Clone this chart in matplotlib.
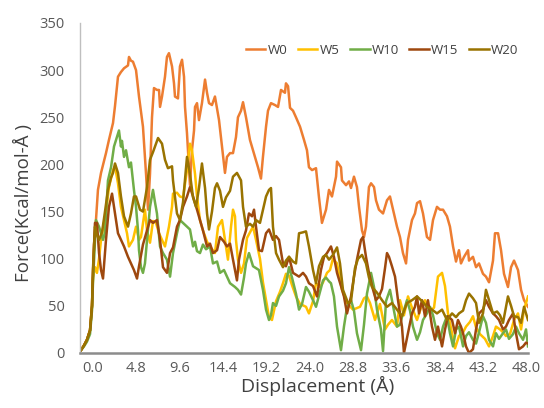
# -*- coding: utf-8 -*-
# Force vs displacement for the W0..W20 pulling runs

# ---------------------------------- imports ----------------------------------
import matplotlib
matplotlib.use('Agg')
import matplotlib.pyplot as plt

plt.rcParams['font.family'] = ['Open Sans', 'DejaVu Sans']

# -----------------------------------------------------------------------------
#                       data
# -----------------------------------------------------------------------------
w0_x = [-1.33, -1.00, -0.67, -0.33, -0.11, 0.11, 0.33, 0.55, 0.89, 1.44, 1.77, 2.22, 2.44, 2.77, 3.10,
        3.44, 3.88, 3.99, 4.21, 4.43, 4.77, 5.10, 5.54, 5.88, 6.10, 6.32, 6.54, 6.76, 7.09, 7.32,
        7.43, 7.65, 7.98, 8.20, 8.42, 8.76, 8.98, 9.09, 9.42, 9.64, 9.87, 10.09, 10.20, 10.42, 10.64,
        10.75, 10.97, 11.20, 11.31, 11.53, 11.75, 12.08, 12.42, 12.64, 12.86, 13.19, 13.52, 13.97, 14.30,
        14.63, 14.85, 15.19, 15.52, 15.85, 16.07, 16.41, 16.63, 16.96, 17.40, 17.74, 18.29, 18.62, 18.84,
        19.18, 19.40, 19.73, 20.17, 20.51, 20.84, 21.28, 21.39, 21.62, 21.84, 22.17, 22.50, 22.95, 23.39,
        23.72, 23.94, 24.28, 24.72, 25.05, 25.38, 25.83, 26.16, 26.49, 26.94, 27.05, 27.49, 27.60, 28.05,
        28.38, 28.60, 28.93, 29.26, 29.49, 29.82, 30.04, 30.26, 30.59, 30.82, 31.15, 31.37, 31.70, 32.15,
        32.59, 32.92, 33.26, 33.70, 34.03, 34.36, 34.70, 34.92, 35.36, 35.69, 35.92, 36.25, 36.58, 37.02,
        37.36, 37.69, 38.13, 38.47, 38.80, 39.24, 39.57, 39.91, 40.24, 40.57, 40.79, 41.13, 41.57, 41.68,
        42.12, 42.46, 42.79, 43.23, 43.56, 43.90, 44.34, 44.56, 44.90, 45.23, 45.56, 46.00, 46.34, 46.67,
        47.11, 47.45, 47.78, 48.22]
w0_y = [3, 8, 14, 24, 50, 115, 141, 173, 191, 212, 226, 244, 262, 293, 298,
        302, 305, 314, 310, 309, 300, 272, 240, 190, 152, 190, 250, 281, 279, 279,
        261, 272, 293, 314, 318, 304, 286, 272, 270, 304, 311, 293, 261, 233, 197,
        178, 215, 236, 261, 265, 247, 265, 290, 276, 265, 263, 272, 247, 219,
        191, 208, 212, 212, 229, 250, 257, 266, 250, 226, 215, 197, 185, 208,
        240, 257, 265, 263, 261, 279, 276, 286, 283, 260, 257, 250, 240, 226,
        215, 197, 194, 196, 165, 138, 152, 173, 166, 187, 203, 197, 183, 178,
        182, 175, 187, 176, 155, 130, 123, 134, 176, 180, 176, 162, 152, 148,
        162, 166, 152, 134, 123, 106, 95, 120, 141, 148, 159, 161, 148, 123,
        120, 141, 155, 152, 152, 145, 134, 113, 97, 109, 95, 102, 109, 98,
        102, 91, 95, 84, 81, 75, 98, 127, 127, 109, 84, 70, 91, 98,
        88, 67, 56, 49]

w5_x = [-1.33, -1.00, -0.67, -0.33, -0.11, 0.00, 0.22, 0.44, 0.67, 0.89, 1.22, 1.44, 1.77, 2.22, 2.44,
        2.77, 3.10, 3.44, 3.77, 3.99, 4.43, 4.77, 5.10, 5.32, 5.76, 5.99, 6.32, 6.65, 6.98, 7.32,
        7.65, 7.98, 8.42, 8.76, 8.87, 9.31, 9.64, 9.98, 10.42, 10.75, 10.97, 11.31, 11.53, 11.86, 12.19,
        12.64, 12.97, 13.52, 13.86, 14.30, 14.63, 14.96, 15.30, 15.52, 15.74, 15.85, 16.07, 16.41, 16.74,
        17.07, 17.40, 17.74, 18.07, 18.51, 18.84, 19.18, 19.51, 19.84, 20.29, 20.73, 21.06, 21.39, 21.73,
        22.06, 22.50, 22.95, 23.61, 23.94, 24.39, 24.72, 25.16, 25.50, 25.94, 26.27, 26.60, 27.05, 27.60,
        28.16, 28.82, 29.60, 30.04, 30.37, 30.71, 31.26, 31.81, 32.37, 32.70, 33.14, 33.70, 34.03, 34.47,
        34.92, 35.36, 35.92, 36.36, 36.80, 37.36, 37.80, 38.24, 38.69, 39.02, 39.35, 39.80, 40.13, 40.57,
        41.02, 41.35, 41.79, 42.12, 42.46, 42.90, 43.45, 43.90, 44.34, 44.67, 45.12, 45.45, 45.78, 46.22,
        46.67, 47.11, 47.45, 47.78, 48.22]
w5_y = [3, 8, 14, 24, 50, 80, 91, 85, 100, 120, 138, 148, 176, 194, 198,
        180, 155, 141, 127, 113, 120, 134, 120, 123, 152, 130, 117, 140, 138, 127,
        120, 113, 134, 155, 169, 170, 166, 165, 194, 222, 215, 190, 166, 141, 130,
        118, 113, 106, 134, 141, 120, 99, 134, 152, 145, 120, 99, 85, 95,
        122, 128, 134, 120, 100, 75, 56, 38, 35, 55, 65, 74, 84, 82,
        72, 60, 52, 49, 42, 55, 74, 70, 75, 85, 88, 100, 95, 67,
        53, 46, 49, 58, 60, 53, 35, 52, 25, 30, 35, 28, 56, 40,
        60, 48, 35, 48, 56, 45, 48, 81, 85, 71, 42, 21, 5, 18,
        22, 28, 33, 39, 27, 20, 15, 7, 18, 28, 25, 22, 18, 20,
        35, 42, 25, 46, 60]

w10_x = [-1.33, -1.00, -0.67, -0.33, -0.11, 0.00, 0.33, 0.67, 1.11, 1.33, 1.66, 2.00, 2.33, 2.66, 2.88,
         3.10, 3.21, 3.44, 3.66, 3.99, 4.21, 4.54, 4.77, 4.99, 5.10, 5.32, 5.54, 5.76, 5.99, 6.32,
         6.65, 6.87, 7.09, 7.43, 7.76, 8.20, 8.54, 8.87, 9.31, 9.64, 9.98, 10.42, 10.75, 11.09, 11.31,
         11.53, 11.86, 12.19, 12.53, 12.97, 13.30, 13.75, 14.08, 14.52, 14.85, 15.19, 15.74, 16.07, 16.41,
         16.74, 16.96, 17.29, 17.74, 18.07, 18.40, 18.84, 19.18, 19.51, 19.73, 19.95, 20.29, 20.62, 21.06,
         21.39, 21.73, 22.06, 22.50, 22.84, 23.17, 23.61, 23.94, 24.39, 24.72, 25.16, 25.50, 25.83, 26.16,
         26.38, 26.71, 27.05, 27.49, 27.82, 28.16, 28.60, 28.93, 29.26, 29.71, 30.04, 30.37, 30.82, 31.15,
         31.48, 31.92, 32.15, 32.48, 32.92, 33.26, 33.70, 34.03, 34.36, 34.81, 35.14, 35.47, 35.92, 36.25,
         36.58, 37.02, 37.36, 37.69, 38.13, 38.47, 38.80, 39.24, 39.57, 39.91, 40.24, 40.57, 41.02, 41.35,
         41.68, 42.12, 42.46, 42.79, 43.23, 43.56, 43.90, 44.34, 44.67, 45.01, 45.45, 45.78, 46.11, 46.56,
         46.89, 47.22, 47.67, 48.00, 48.22]
w10_y = [3, 7, 12, 20, 45, 75, 141, 134, 120, 128, 183, 197, 219, 229, 236,
         219, 225, 208, 215, 197, 202, 173, 155, 130, 109, 91, 85, 95, 120, 155,
         173, 160, 148, 113, 106, 99, 81, 106, 127, 141, 138, 134, 131, 113, 118,
         108, 106, 115, 110, 113, 95, 97, 85, 88, 81, 74, 70, 67, 62,
         80, 95, 106, 92, 90, 88, 67, 46, 35, 40, 53, 50, 60, 66,
         74, 91, 80, 63, 46, 52, 70, 65, 56, 49, 65, 77, 80, 76,
         74, 60, 28, 3, 28, 49, 56, 45, 21, 3, 30, 63, 85, 70,
         46, 25, 2, 55, 67, 50, 28, 30, 42, 56, 45, 28, 14, 22,
         35, 42, 49, 40, 21, 14, 28, 39, 21, 7, 25, 28, 7, 18,
         22, 14, 10, 22, 39, 32, 14, 7, 21, 15, 21, 25, 15, 20,
         28, 21, 14, 25, 7]

w15_x = [-1.33, -1.00, -0.67, -0.33, -0.11, 0.00, 0.22, 0.44, 0.67, 0.89, 1.11, 1.44, 1.77, 2.11, 2.33,
         2.77, 3.10, 3.44, 3.88, 4.21, 4.54, 4.88, 5.10, 5.54, 5.99, 6.32, 6.65, 7.09, 7.43, 7.76,
         8.20, 8.54, 8.87, 9.31, 9.64, 9.98, 10.42, 10.75, 11.09, 11.53, 11.86, 12.19, 12.64, 12.97, 13.30,
         13.75, 14.08, 14.52, 14.85, 15.19, 15.52, 15.96, 16.18, 16.63, 16.96, 17.29, 17.63, 17.85, 18.07,
         18.40, 18.73, 19.18, 19.51, 19.95, 20.29, 20.62, 21.06, 21.39, 21.73, 22.17, 22.50, 22.84, 23.28,
         23.61, 23.94, 24.39, 24.83, 25.27, 25.61, 25.94, 26.38, 26.71, 27.05, 27.49, 27.82, 28.16, 28.60,
         28.93, 29.26, 29.71, 29.93, 30.26, 30.59, 30.93, 31.37, 31.70, 32.04, 32.37, 32.59, 32.81, 33.14,
         33.48, 33.81, 34.25, 34.47, 34.92, 35.36, 35.69, 35.92, 36.14, 36.47, 36.80, 37.13, 37.58, 37.91,
         38.24, 38.69, 39.02, 39.35, 39.80, 40.13, 40.46, 40.79, 41.02, 41.35, 41.68, 42.12, 42.46, 42.79,
         43.23, 43.56, 43.90, 44.34, 44.67, 45.01, 45.45, 45.78, 46.11, 46.56, 46.89, 47.22, 47.67, 48.00,
         48.22]
w15_y = [3, 8, 14, 24, 50, 85, 138, 138, 106, 88, 79, 120, 155, 169, 155,
         127, 120, 113, 102, 95, 88, 79, 92, 115, 130, 141, 138, 141, 120, 91,
         85, 106, 112, 134, 141, 155, 166, 176, 166, 152, 141, 130, 113, 116, 106,
         109, 123, 118, 113, 116, 99, 77, 99, 120, 130, 148, 145, 152, 134,
         109, 108, 127, 131, 120, 124, 120, 95, 92, 102, 85, 83, 81, 85,
         81, 74, 71, 60, 88, 102, 106, 113, 102, 85, 71, 60, 42, 60,
         81, 99, 120, 123, 102, 85, 71, 56, 60, 68, 90, 106, 102, 92,
         81, 56, 28, 0, 21, 42, 49, 60, 42, 56, 39, 56, 28, 14,
         28, 7, 25, 39, 35, 21, 35, 28, 21, 7, 0, 4, 25, 42,
         46, 56, 49, 42, 39, 35, 25, 28, 35, 42, 21, 4, 7, 11,
         10]

w20_x = [-1.33, -1.00, -0.67, -0.33, -0.11, 0.00, 0.22, 0.44, 0.67, 1.00, 1.33, 1.66, 2.00, 2.22, 2.44,
         2.77, 3.10, 3.44, 3.88, 4.21, 4.54, 4.77, 5.21, 5.54, 5.99, 6.32, 6.65, 7.21, 7.65, 7.98,
         8.31, 8.76, 8.87, 9.31, 9.64, 9.98, 10.42, 10.75, 11.09, 11.42, 11.75, 12.08, 12.42, 12.64, 12.86,
         13.19, 13.52, 13.75, 14.08, 14.41, 14.74, 15.19, 15.52, 15.96, 16.41, 16.63, 16.96, 17.40, 17.74,
         18.07, 18.51, 18.84, 19.18, 19.51, 19.73, 19.95, 20.29, 20.62, 21.06, 21.39, 21.73, 22.17, 22.50,
         22.84, 23.28, 23.61, 23.94, 24.39, 24.72, 25.05, 25.50, 25.83, 26.16, 26.60, 27.05, 27.38, 27.71,
         28.27, 28.60, 29.04, 29.38, 29.82, 30.26, 30.59, 30.93, 31.48, 32.04, 32.59, 33.14, 33.70, 34.25,
         34.81, 35.36, 35.92, 36.47, 37.02, 37.58, 38.13, 38.69, 39.24, 39.80, 40.24, 40.57, 41.02, 41.35,
         41.68, 42.12, 42.46, 42.79, 43.23, 43.56, 43.90, 44.34, 44.79, 45.12, 45.45, 45.78, 46.00, 46.34,
         46.67, 47.11, 47.45, 47.78, 48.22]
w20_y = [3, 8, 14, 24, 50, 90, 134, 125, 120, 128, 150, 173, 186, 191, 201,
         191, 166, 145, 134, 148, 166, 166, 152, 150, 176, 205, 213, 228, 222, 205,
         196, 198, 183, 148, 141, 160, 208, 190, 165, 155, 175, 201, 175, 148, 131,
         150, 175, 180, 172, 155, 165, 172, 187, 191, 183, 155, 134, 137, 134,
         141, 138, 152, 166, 173, 175, 134, 106, 99, 91, 98, 102, 97, 95,
         127, 128, 129, 113, 88, 74, 92, 102, 104, 99, 104, 112, 95, 67,
         53, 55, 90, 100, 104, 95, 80, 70, 64, 56, 49, 53, 46, 39,
         53, 56, 60, 55, 49, 46, 42, 46, 35, 42, 38, 42, 45, 56,
         63, 58, 53, 32, 42, 67, 56, 42, 44, 40, 32, 49, 60, 50,
         39, 38, 32, 49, 35]

names = ['W0', 'W5', 'W10', 'W15', 'W20']
colors = ['#ED7D31', '#FFC000', '#70AD47', '#9E480E', '#997300']
xs = [w0_x, w5_x, w10_x, w15_x, w20_x]
ys = [w0_y, w5_y, w10_y, w15_y, w20_y]

x_ticks = [0.0, 4.8, 9.6, 14.4, 19.2, 24.0, 28.8, 33.6, 38.4, 43.2, 48.0]
y_ticks = [0, 50, 100, 150, 200, 250, 300, 350]

# -----------------------------------------------------------------------------
#                                   plotting
# -----------------------------------------------------------------------------
fig = plt.figure(figsize=(5.44, 4.08), dpi=100)
ax = fig.add_axes([80 / 544, 55 / 408, 448 / 544, 330 / 408])

for name, x, y, c in zip(names, xs, ys, colors):
    ax.plot(x, y, color=c, lw=1.8, label=name)

ax.set_xlim(-1.44, 48.22)
ax.set_ylim(0, 350)
ax.set_xticks(x_ticks)
ax.set_xticklabels(['{:.1f}'.format(t) for t in x_ticks])
ax.set_yticks(y_ticks)

for s in ['top', 'right']:
    ax.spines[s].set_visible(False)
ax.spines['left'].set_color('#BFBFBF')
ax.spines['left'].set_linewidth(1.0)
ax.spines['bottom'].set_color('#8C8C8C')
ax.spines['bottom'].set_linewidth(1.8)

ax.tick_params(axis='both', length=0, labelsize=10.5, colors='#595959')
ax.tick_params(axis='y', pad=11)
ax.tick_params(axis='x', pad=6)

ax.set_xlabel('Displacement (Å)', fontsize=14, color='#404040')
ax.set_ylabel('Force(Kcal/mol-Å )', fontsize=13.5, color='#404040')
ax.xaxis.set_label_coords(0.531, -0.07)
ax.yaxis.set_label_coords(-0.105, 0.455)

ax.legend(ncol=5, loc='center', bbox_to_anchor=(0.674, 0.918), frameon=False,
          fontsize=9.5, handlelength=1.5, handletextpad=0.15, columnspacing=0.8,
          labelcolor='#404040')

fig.savefig('out.png', dpi=100)
